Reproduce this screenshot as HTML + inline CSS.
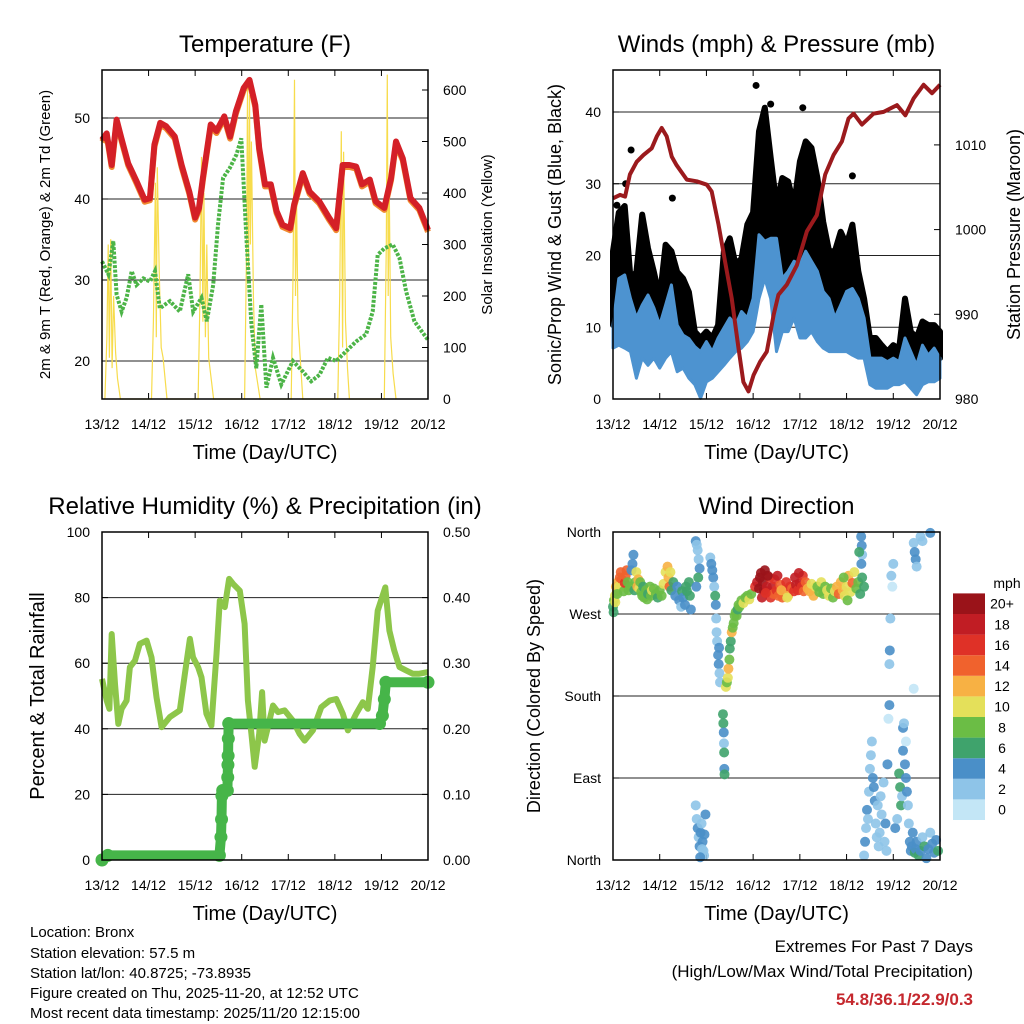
<!DOCTYPE html>
<html><head><meta charset="utf-8"><style>
html,body{margin:0;padding:0;background:#fff;}
svg{display:block;font-family:"Liberation Sans",Arial,sans-serif;}
</style></head><body>
<svg id="chart" width="1024" height="1024" viewBox="0 0 1024 1024" xmlns="http://www.w3.org/2000/svg">
<rect width="1024" height="1024" fill="#fff"/>
<g id="g1"></g>
<g id="g2"></g>
<g id="g3"></g>
<g id="g4"></g>
<g font-size="15" fill="#000">
<text x="30" y="937">Location: Bronx</text>
<text x="30" y="958">Station elevation: 57.5 m</text>
<text x="30" y="978">Station lat/lon: 40.8725; -73.8935</text>
<text x="30" y="998">Figure created on Thu, 2025-11-20, at 12:52 UTC</text>
<text x="30" y="1018">Most recent data timestamp: 2025/11/20 12:15:00</text>
</g>
<g text-anchor="end">
<text x="973" y="952" font-size="17">Extremes For Past 7 Days</text>
<text x="973" y="977" font-size="17">(High/Low/Max Wind/Total Precipitation)</text>
<text x="973" y="1005" font-size="17" font-weight="bold" fill="#c5282e">54.8/36.1/22.9/0.3</text>
</g>
</svg>
<script>
// ---------- DATA ----------
const dayLabels=["13/12","14/12","15/12","16/12","17/12","18/12","19/12","20/12"];
const tempH=[0,2.4,5,7.5,10,13.5,17.8,22,24.7,27,30,33,37.5,41,45,48,50,52,56,59,63,66,69,73,76,79,81,84,87,90,93,97,99,103.5,107,112,117,120.7,124,127.5,131,134,138,141,145.5,149,151.5,155,159,163.5,168];
const tempV=[47.3,48.1,44.2,49.8,47.5,44.4,42.2,39.9,40.1,46.7,49.4,49,47.7,44.2,40.9,37.7,38.9,42.6,49.2,48.4,50.2,47.7,50.8,53.7,54.7,51.6,46.3,41.8,41.8,38.5,36.8,36.4,39.3,43.2,40.9,39.7,37.7,36.4,44.2,44.2,44,41.8,42.4,39.7,38.9,42.6,47.1,45,40.1,38.9,36.2];
const dewH=[0,3.3,5.8,7.5,10.1,12.7,15.3,17.8,21.3,24.7,27.3,29.8,35,40.1,44.4,47,51.3,54,57.3,59.8,62.4,65.8,69.3,71.8,74.4,77,79.5,82.1,84.7,88.1,92.4,98.4,103.5,107.8,112.1,116.4,120.7,125.8,130.9,136.1,139.5,142.1,145.5,149.8,153.3,156.7,161,168];
const dewV=[32.3,30.7,34.8,28.2,26.1,27.8,31.1,29.4,30.2,29.8,31.1,26.5,27.4,26.1,30.7,26.1,27.8,24.9,29.4,36.8,42.6,43.8,45.5,47.5,35.2,24.5,19.1,27,16.7,20.4,17.1,20,18.7,17.5,18.3,20.4,20,21.2,22.4,23.3,26.1,33.1,33.9,34.4,32.7,28.6,24.9,22.6];
const solarH=[1.5,2.5,3.2,3.8,4.5,5.2,6,7,8,9.5, 25.5,26.5,27.5,28,28.5,29.5,30.5,31.5,33.5, 49.5,50.5,51.3,52,52.5,53.3,54,55,57.5, 73.5,74.5,75,75.5,76,76.5,77,78,79,81.5, 97.5,98.5,99.2,99.7,100.3,101,102,103.5, 121.5,122.5,123.3,124,124.5,125.5,126.5,127.5, 145.5,146.5,147,147.5,148,148.8,150,151.5];
const solarV=[0,120,300,80,310,60,200,90,40,0, 0,150,420,120,450,250,100,80,0, 0,200,470,150,400,120,300,80,0, 0,300,600,250,590,300,500,200,60,0, 0,250,620,200,380,150,90,0, 0,200,520,100,480,150,60,0, 0,300,630,200,420,120,50,0];
const presH=[0,3.6,6.2,8.7,12.2,15.6,19.9,22.5,25,27.6,30.2,32.7,37.9,43,48.2,50.7,54.2,57.6,61,64.5,67,69.6,72.2,75.6,79,82.5,85,89.3,94.5,99.6,104.7,109,113.3,117.6,121,123.6,127.9,133.9,139,145.9,150.2,154.5,159.6,163.9,168];
const presV=[1003.7,1004.1,1003.9,1006.5,1008,1008.8,1009.6,1011,1012,1011,1008.6,1007.6,1005.9,1005.7,1005.3,1004.5,1000.6,996.2,991.9,986,982,980.9,982.8,984.4,985.6,989.9,992.3,993.5,995.8,999.8,1001.7,1006.5,1008.8,1010.4,1013.1,1013.7,1012.4,1013.7,1013.9,1014.7,1013.5,1015.5,1017.1,1016.1,1017.1];
const windStep=3;
const windHi=[10.3,16.8,17.3,14,11.3,13.1,14.5,12.7,10.3,13.1,15.9,10.3,8.9,8.4,7.3,6.6,8,6.6,8.5,9.9,11.3,10.3,12.2,11.3,14,22.9,22,22.4,22.4,16.8,17.8,19.2,18.7,20.6,19.2,17.8,15,14,11.3,13.1,15,15.4,14,11.3,5.7,5.7,5.7,5.2,5.7,5.2,8.5,6.6,4.7,7.5,6.1,7.1,5.7];
const windLo=[7.1,7.5,7.1,6.6,2.9,5.7,4.7,5.7,4.3,5.7,6.6,3.8,4.3,2.9,2,0.1,2.4,2.9,3.8,4.7,5.7,6.6,7.1,8,9.4,14,16.8,14,6.6,9.4,9.4,11.3,8.5,8.5,9.4,8,7.1,6.6,6.6,6.6,6.6,6.1,5.7,5.7,2,1.5,1.5,1.5,2,2,2.4,1.5,0.6,2,2.4,2.4,2.9];
const gustHi=[20.6,26,26.9,16.8,17.7,25.7,21,17.7,14,21.5,20.6,17.7,16.8,14.9,9.4,8.5,9.4,8.5,10.3,20.6,22.4,18.7,19.6,24.3,26,37.3,40.6,33.6,27,30.8,30.3,27,33.1,35.9,35,30.8,24.7,20.6,20.6,23.3,21.5,24.3,17.8,14,8.5,8.5,7.5,6.6,7.5,7,14,9.4,8.5,10.8,10.3,10.3,9.4];
const gustOutH=[9.3,73.5,81,97.5,123,2,6.5,30.5];
const gustOutV=[34.7,43.7,41.1,40.6,31.1,27,30,28];
const rhH=[0,2.4,3.8,5,6.7,8.4,10.1,12.7,14.4,17,19.5,23,25.5,28.1,30.7,35,40.1,42.7,45.3,46.9,49.5,51.3,53.8,56.4,59,60.7,63.3,65.5,67.5,71,73.5,75.2,77,78.7,81,82.5,83.8,85.5,88.1,90.7,94.1,98.4,101.8,104.4,108.7,113,117.3,120.7,124.1,126.7,131,134.4,137,139.5,142.1,143.8,146,148.1,150.6,153.3,156.7,160.1,163.5,168];
const rhV=[55.2,48.6,46.1,68.9,53.7,41.5,46.1,48.6,58.8,60.8,65.9,66.9,61.8,49.6,40.5,43.6,45.6,56.8,67.4,61.8,58.8,55.7,44.6,41,62.8,79.1,77.1,85.7,84.2,82.1,72,48.6,38.5,28.4,38.5,51.2,36.4,40.5,47.1,45.1,45.6,42.5,38.5,36.4,39.5,46.6,48.6,49.1,44.6,39.5,44.6,48.1,46.1,58.8,76,79.1,83.1,69.9,63.9,58.8,57.8,56.8,56.8,57.3];
const precipH=[0,3,60.5,61.3,61.6,61.8,62.2,64.6,64.8,64.9,65,65.1,65.3,143,144.5,145.5,146.3,168];
const precipV=[0,0.007,0.007,0.035,0.062,0.098,0.106,0.106,0.126,0.145,0.159,0.185,0.208,0.208,0.22,0.245,0.271,0.271];
const dirPts=[[0,278,6],[0.5,285,8],[1,290,10],[1.5,300,12],[2,295,13],[2.5,305,12],[3,300,10],[3.5,310,14],[4,316,15],[4.5,308,14],[5,300,10],[5.5,295,8],[6,304,16],[6.5,312,15],[7,318,14],[7.5,305,9],[8,296,8],[0.3,272,6],[1.2,283,11],[2.2,292,9],
[9,300,8],[9.5,318,5],[10,325,4],[10.5,335,4],[11,296,7],[11.5,305,8],[12,316,10],[12.5,300,12],[13,308,13],[13.5,298,11],[14,305,9],[14.5,294,8],[15,290,8],[15.5,300,7],[16,288,8],[17,296,9],[17.5,286,8],[18,292,7],[19,300,9],[19.5,290,8],[20,296,10],
[21,298,8],[22,292,8],[23,288,7],[24,296,9],[25,290,8],[26,303,10],[27,316,11],[28,322,12],[28.5,310,13],[29,300,14],[29.5,316,10],[30,296,7],[31,305,6],
[32,290,4],[33,300,5],[34,285,4],[35,278,3],[35.5,295,6],[36,288,5],[37,280,4],[37.5,300,6],[38,295,6],[39,305,6],[39.5,290,7],[40,275,5],
[42.5,350,4],[43,346,3],[43.5,340,2],[44,330,2],[44.5,320,5],[43.8,310,6],[42.8,300,5],
[50,332,3],[50.5,325,4],[51,318,4],[51.5,310,4],[52,300,3],[52.5,290,6],[52.8,280,4],[53,265,3],[53.2,250,2],[53.5,240,3],[54,225,4],[54.3,215,4],[54.7,205,3],[55,195,3],[54.5,233,4],
[56.5,160,7],[56.7,150,7],[56.9,140,4],[57,128,3],[57.1,118,6],[57.2,100,4],[57.3,94,6],
[58,190,10],[58.5,195,9],[59,200,10],[59.3,210,12],[59.8,220,8],[60,232,7],[60.5,240,6],[61,250,12],[61.5,255,9],[62,260,8],[62.5,268,8],[63,272,9],[63.5,268,8],[64,275,7],[64.5,280,8],[65,278,9],[66,285,8],[67,282,10],[68,288,9],[69,290,8],[70,286,10],[71,292,9],
[73,300,16],[74,305,18],[75,298,20],[75.5,310,21],[76,315,20],[77,305,22],[77.5,296,20],[78,318,22],[79,300,19],[80,295,18],[80.5,310,17],[81,288,16],[82,300,18],[82.5,292,15],[83,308,17],[84,296,16],[85,290,14],[86,302,15],[87,288,14],[88,296,16],[89,305,17],[90,290,13],[91,300,16],[92,298,15],[93,295,17],[93.5,310,18],[94,302,19],[95,296,17],[96,304,18],[97,300,16],[97.5,312,17],[98,295,15],[99,305,14],[100,298,13],[101,295,12],[102,303,11],[103,290,12],[104,300,10],[76.5,288,19],[79.5,312,21],[84.5,312,18],[95.5,315,18],[78.5,293,17],[86.5,296,13],[89.5,288,10],
[105,300,9],[106,294,8],[107,305,10],[108,292,9],[109,300,8],[110,296,11],[111,290,10],[112,298,9],[113,288,8],[114,295,10],[115,300,12],[116,292,14],[117,305,13],[118,296,12],[119,290,10],[120,300,11],[121,312,12],[122,294,10],[123,304,14],[124,316,11],[125,298,9],[126,305,8],[127,292,7],[128,310,7],[129,300,6],[120.5,285,8],[118.5,310,9],
[127.5,355,4],[127.8,345,4],[128,335,3],[127.6,325,4],[126.5,338,7],
[42.5,60,2],[43,45,3],[43.5,35,4],[44,25,3],[44.5,15,4],[45,30,4],[45.5,40,3],[46,20,4],[46.5,10,3],[47,28,4],[47.5,50,4],[46.8,5,2],[45.8,12,3],[44.8,3,4],
[129,5,3],[129.5,20,4],[130,35,3],[130.5,55,4],[131,45,2],[131.5,75,3],[132,100,2],[132.5,115,3],[133,130,2],[133.5,90,4],[134,80,4],[134.5,65,5],[135,40,3],[135.5,25,2],[136,60,2],[136.5,15,2],[137,30,3],[137.5,70,2],[138,50,2],[139,85,2],[139.5,20,3],[140,40,4],[141,105,4],[141.5,155,0],[142,170,4],[142,215,3],[142.2,230,4],[142.5,265,3],[143,312,2],[143.5,300,1],[144,325,2],[140.5,10,2],[145,35,4],[146,45,2],[147,95,6],[147.5,80,7],[148,60,7],[148.5,70,2],[149,145,4],[149.5,150,3],[149,120,4],[150,105,4],[150.5,90,4],[151,75,4],[151.5,60,3],[152,40,3],[152.5,20,4],[153,10,5],[153.5,15,5],[154,30,4],[155,8,6],[155.5,12,4],[156,20,4],[157,5,6],[158,10,4],[159,25,3],[160,15,6],[161,2,4],[162,12,4],[163,30,3],[164,18,4],[165,8,5],[166,22,4],[167,10,6],[154.5,188,1],[150.5,130,0],
[154.5,348,3],[155,338,4],[155.5,330,4],[156,322,3],[158,355,3],[159,350,3],[163,359,4]];
const speedColors=["#c3e6f6","#8ec4e8","#4a8fc8","#3fa36c","#6bbd45","#e4e05a","#f7b144","#f0622d","#df3127","#c11d24","#9a1319"];
const speedLabels=["0","2","4","6","8","10","12","14","16","18","20+"];

// ---------- HELPERS ----------
const NS="http://www.w3.org/2000/svg";
function mk(parent,tag,attrs,txt){const e=document.createElementNS(NS,tag);for(const k in attrs)e.setAttribute(k,attrs[k]);if(txt!==undefined)e.textContent=txt;parent.appendChild(e);return e;}
function pathD(xs,ys){return xs.map((x,i)=>(i?"L":"M")+x.toFixed(1)+" "+ys[i].toFixed(1)).join("");}
function panel(g,P,title,xTitle,leftTicks,leftLab,rightTicks,rightLab,leftTitle,rightTitle,ltSize,rtSize,ltx,rtx){
  const cx=(P.x0+P.x1)/2;
  const t=mk(g,"text",{x:cx,y:P.y0-18,"font-size":24,"text-anchor":"middle"},title);
  
  
  leftTicks.forEach((v,i)=>{const y=P.ly(v);
    if(P.grid&&y>P.y0+1&&y<P.y1-1){const l=mk(g,"line",{x1:P.x0,x2:P.x1,y1:y,y2:y,stroke:"#222","stroke-width":1});
      
      }
    mk(g,"line",{x1:P.x0,x2:P.x0+6,y1:y,y2:y,stroke:"#000","stroke-width":1});
    const tx=mk(g,"text",{x:P.x0-12,y:y+5,"font-size":14,"text-anchor":"end"},leftLab[i]);
    
    
  });
  if(rightTicks) rightTicks.forEach((v,i)=>{const y=P.ry(v);
    mk(g,"line",{x1:P.x1-6,x2:P.x1,y1:y,y2:y,stroke:"#000","stroke-width":1});
    const tx=mk(g,"text",{x:P.x1+15,y:y+5,"font-size":14},rightLab[i]);
    
    
  });
  dayLabels.forEach((d,i)=>{const x=P.x0+i*(P.x1-P.x0)/7;
    mk(g,"line",{x1:x,x2:x,y1:P.y1-6,y2:P.y1,stroke:"#000"});
    mk(g,"line",{x1:x,x2:x,y1:P.y0,y2:P.y0+6,stroke:"#000"});
    const tx=mk(g,"text",{x:x,y:P.y1+30,"font-size":14,"text-anchor":"middle"},d);
    
    
  });
  const xt=mk(g,"text",{x:cx,y:P.y1+60,"font-size":20,"text-anchor":"middle"},xTitle);
  
  
  const cy=(P.y0+P.y1)/2;
  const lt=mk(g,"text",{x:ltx,y:cy,"font-size":ltSize,"text-anchor":"middle",transform:`rotate(-90 ${ltx} ${cy})`},leftTitle);
  
  
  if(rightTitle){const rt=mk(g,"text",{x:rtx,y:cy,"font-size":rtSize,"text-anchor":"middle",transform:`rotate(-90 ${rtx} ${cy})`},rightTitle);
    
    }
}
function frame(g,P){const r=mk(g,"rect",{x:P.x0,y:P.y0,width:P.x1-P.x0,height:P.y1-P.y0,fill:"none",stroke:"#000","stroke-width":1.5});
  
  }

// ---------- PANEL 1 ----------
(function(){
  const g=document.getElementById("g1");
  const P={x0:102,x1:428,y0:70,y1:399,grid:true};
  P.x=h=>P.x0+h/168*(P.x1-P.x0);
  P.ly=t=>361-(t-20)*8.1;
  P.ry=s=>399-s*0.515;
  panel(g,P,"Temperature (F)","Time (Day/UTC)",[20,30,40,50],["20","30","40","50"],[0,100,200,300,400,500,600],["0","100","200","300","400","500","600"],"2m & 9m T (Red, Orange) & 2m Td (Green)","Solar Insolation (Yellow)",15,15,50,492);
  const s=mk(g,"path",{d:pathD(solarH.map(P.x),solarV.map(P.ry)),fill:"none",stroke:"#f7dc4c","stroke-width":1.2});
  
  
  const dw=mk(g,"path",{d:pathD(dewH.map(P.x),dewV.map(P.ly)),fill:"none",stroke:"#4cb447","stroke-width":4,"stroke-dasharray":"3 1.5"});
  
  
  const o=mk(g,"path",{d:pathD(tempH.map(P.x),tempV.map(v=>P.ly(v)+2)),fill:"none",stroke:"#f08a30","stroke-width":6,"stroke-linejoin":"round"});
  
  
  const r=mk(g,"path",{d:pathD(tempH.map(P.x),tempV.map(P.ly)),fill:"none",stroke:"#d42027","stroke-width":6,"stroke-linejoin":"round"});
  
  
  frame(g,P);
})();

// ---------- PANEL 2 ----------
(function(){
  const g=document.getElementById("g2");
  const P={x0:613,x1:940,y0:70,y1:399,grid:true};
  P.x=h=>P.x0+h/168*(P.x1-P.x0);
  P.ly=w=>399-w*7.175;
  P.ry=p=>399-(p-980)*8.47;
  panel(g,P,"Winds (mph) & Pressure (mb)","Time (Day/UTC)",[0,10,20,30,40],["0","10","20","30","40"],[980,990,1000,1010],["980","990","1000","1010"],"Sonic/Prop Wind & Gust (Blue, Black)","Station Pressure (Maroon)",18,18,561,1020);
  const wh=windHi.map((v,i)=>i*windStep);
  const gx=wh.map(P.x);
  const gust=mk(g,"path",{d:pathD(gx,gustHi.map(P.ly))+pathD(gx.slice().reverse(),windHi.map(P.ly).reverse()).replace("M","L")+"Z",fill:"#000",stroke:"#000","stroke-width":6,"stroke-linejoin":"round"});
  
  
  gustOutH.forEach((h,i)=>{const c=mk(g,"circle",{cx:P.x(h),cy:P.ly(gustOutV[i]),r:3.5,fill:"#000"});
    
    });
  const wind=mk(g,"path",{d:pathD(gx,windHi.map(P.ly))+pathD(gx.slice().reverse(),windLo.map(P.ly).reverse()).replace("M","L")+"Z",fill:"#4d93d0",stroke:"#4d93d0","stroke-width":3,"stroke-linejoin":"round"});
  
  
  const pr=mk(g,"path",{d:pathD(presH.map(P.x),presV.map(P.ry)),fill:"none",stroke:"#9b1a1d","stroke-width":4,"stroke-linejoin":"round"});
  
  
  frame(g,P);
})();

// ---------- PANEL 3 ----------
(function(){
  const g=document.getElementById("g3");
  const P={x0:102,x1:428,y0:532,y1:860,grid:true};
  P.x=h=>P.x0+h/168*(P.x1-P.x0);
  P.ly=r=>860-r*3.28;
  P.ry=p=>860-p*656;
  panel(g,P,"Relative Humidity (%) & Precipitation (in)","Time (Day/UTC)",[0,20,40,60,80,100],["0","20","40","60","80","100"],[0,0.1,0.2,0.3,0.4,0.5],["0.00","0.10","0.20","0.30","0.40","0.50"],"Percent & Total Rainfall",null,20,0,44,0);
  const rh=mk(g,"path",{d:pathD(rhH.map(P.x),rhV.map(P.ly)),fill:"none",stroke:"#8dc64a","stroke-width":6,"stroke-linejoin":"round"});
  
  
  const pc=mk(g,"path",{d:pathD(precipH.map(P.x),precipV.map(P.ry)),fill:"none",stroke:"#46b549","stroke-width":10,"stroke-linejoin":"round"});
  
  
  precipH.forEach((h,i)=>{const c=mk(g,"circle",{cx:P.x(h),cy:P.ry(precipV[i]),r:6.5,fill:"#46b549"});
    
    });
  frame(g,P);
})();

// ---------- PANEL 4 ----------
(function(){
  const g=document.getElementById("g4");
  const P={x0:613,x1:940,y0:532,y1:860,grid:true};
  P.x=h=>P.x0+h/168*(P.x1-P.x0);
  P.ly=d=>860-d/360*328;
  panel(g,P,"Wind Direction","Time (Day/UTC)",[0,90,180,270,360],["North","East","South","West","North"],null,null,"Direction (Colored By Speed)",null,18,0,540,0);
  dirPts.forEach(p=>{const idx=Math.min(10,Math.floor(p[2]/2));
    const c=mk(g,"circle",{cx:P.x(p[0]),cy:P.ly(p[1]),r:5,fill:speedColors[idx],"fill-opacity":0.9});
    
    });
  frame(g,P);
  const lg=mk(g,"g",{});
  
  
  const bh=20.6;
  speedColors.forEach((c,i)=>{const y=820-(i+1)*bh;
    const r=mk(lg,"rect",{x:953,y:y,width:32,height:bh,fill:c});
    
    
    const t=mk(lg,"text",{x:1002,y:y+bh/2+5,"font-size":14,"text-anchor":"middle"},speedLabels[i]);
    
    });
  const u=mk(lg,"text",{x:1007,y:588,"font-size":14,"text-anchor":"middle"},"mph");
  
  
})();
</script>
</body></html>
